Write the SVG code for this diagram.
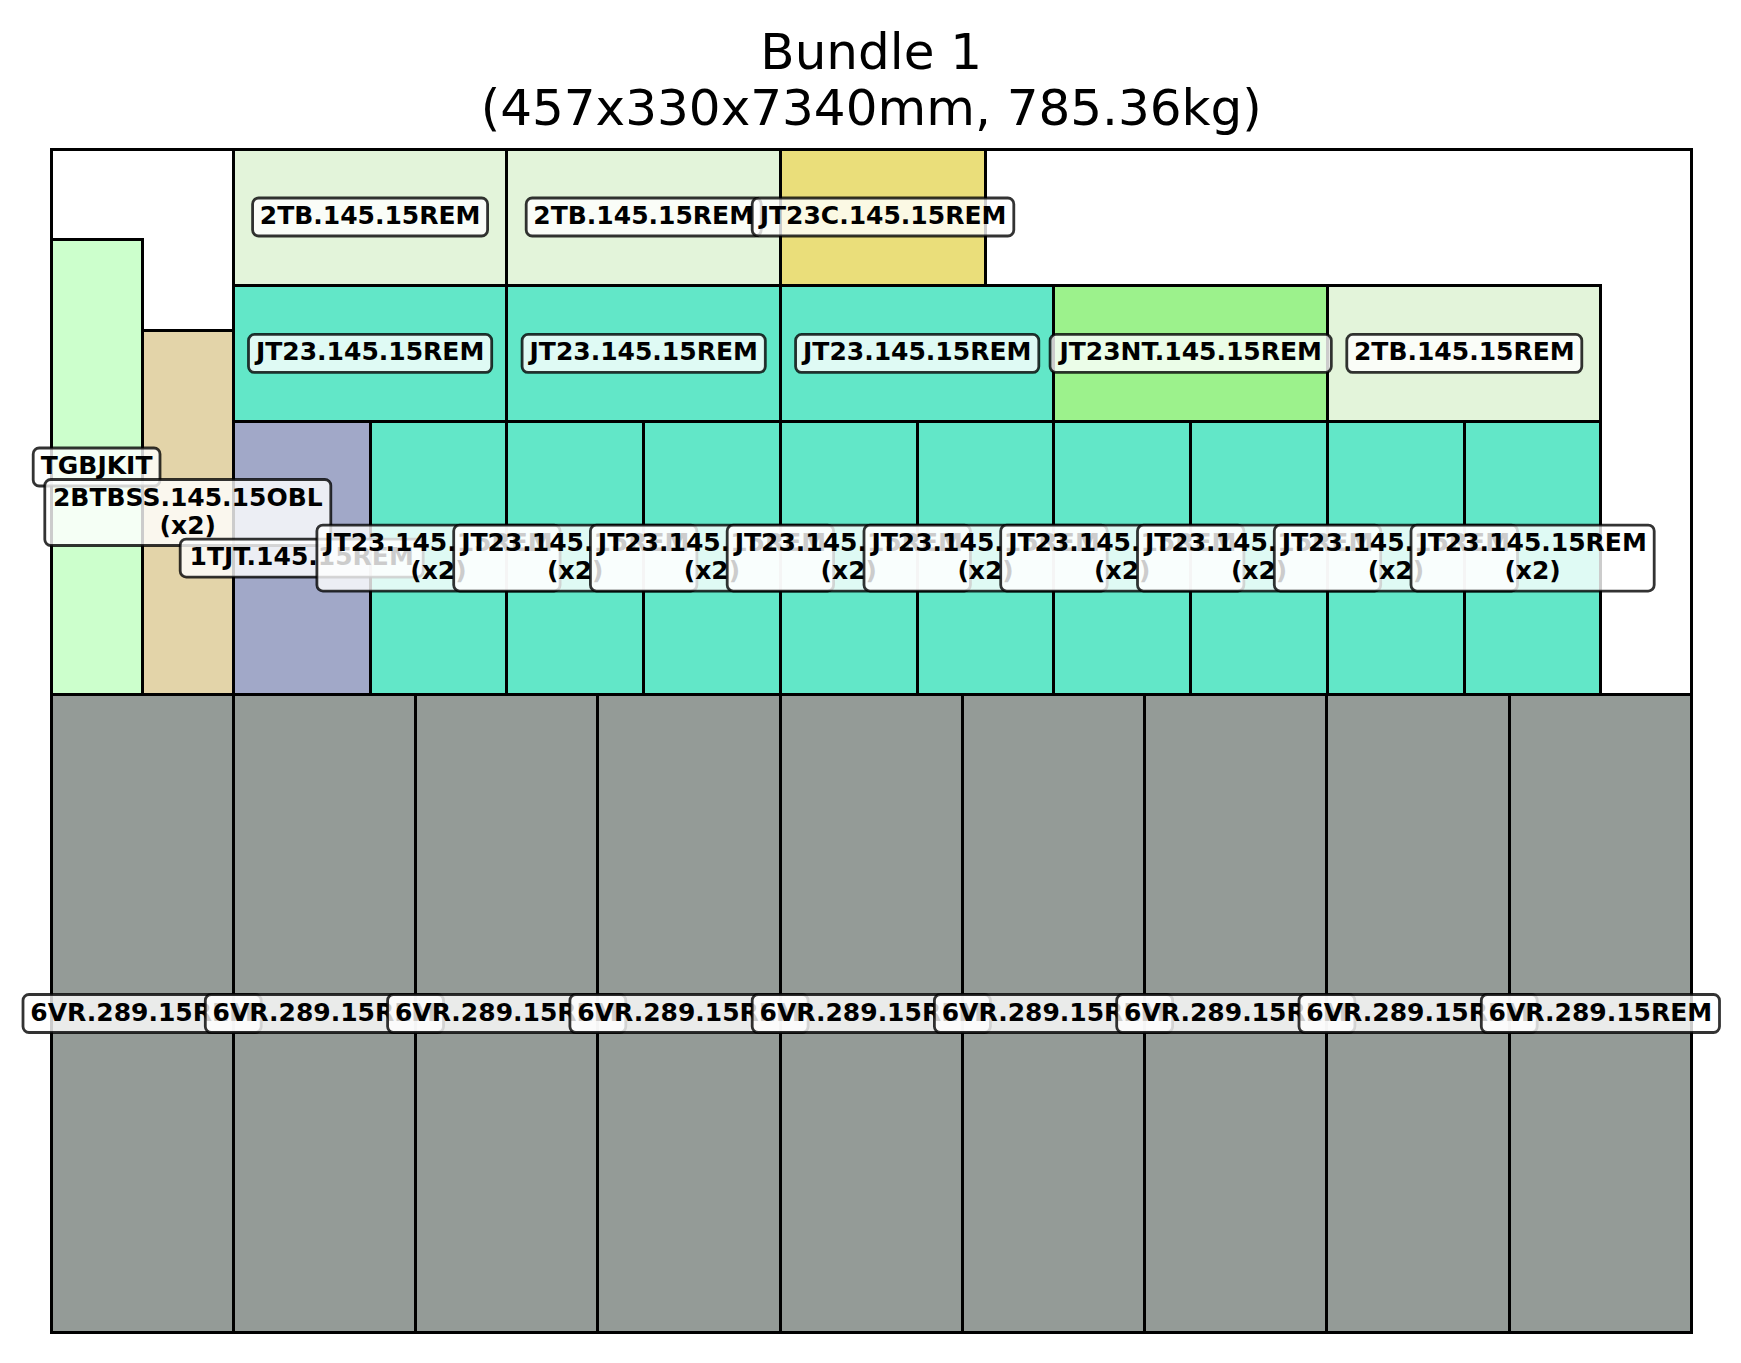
<svg xmlns="http://www.w3.org/2000/svg" width="1741" height="1363" viewBox="0 0 1741 1363">
  <style>
    .part { stroke: #000; stroke-width: 3; }
    .tb   { fill: #e3f4da; }
    .jt   { fill: #62e7c8; }
    .jtc  { fill: #eade7a; }
    .jtnt { fill: #9cf28c; }
    .kit  { fill: #ccffcc; }
    .bss  { fill: #e3d4a9; }
    .tjt  { fill: #a1a8c8; }
    .vr   { fill: #949b97; }
    .tag rect { fill: #fff; fill-opacity: 0.8; stroke: #000; stroke-opacity: 0.8; stroke-width: 2.8; }
    .tag text { font-family: "DejaVu Sans", sans-serif; font-weight: bold; font-size: 25px; text-anchor: middle; fill: #000; }
    .title { font-family: "DejaVu Sans", sans-serif; font-size: 50px; text-anchor: middle; fill: #000; }
  </style>

  <rect width="1741" height="1363" fill="#fff"/>

  <!-- heading -->
  <g id="title">
    <text class="title" x="871.25" y="69">Bundle 1</text>
    <text class="title" x="871.25" y="125">(457x330x7340mm, 785.36kg)</text>
  </g>

  <!-- bundle cross-section outline -->
  <rect id="bundle-outline" x="51.5" y="149.5" width="1640" height="1183" fill="#fff" stroke="#000" stroke-width="3"/>

  <!-- parts -->
  <g id="parts">
    <!-- bottom layer: 6VR.289.15REM -->
    <g id="vr-1"><rect class="part vr" x="51.5" y="694.5" width="182" height="638"/></g>
    <g id="vr-2"><rect class="part vr" x="233.5" y="694.5" width="182" height="638"/></g>
    <g id="vr-3"><rect class="part vr" x="415.5" y="694.5" width="182" height="638"/></g>
    <g id="vr-4"><rect class="part vr" x="597.5" y="694.5" width="183" height="638"/></g>
    <g id="vr-5"><rect class="part vr" x="780.5" y="694.5" width="182" height="638"/></g>
    <g id="vr-6"><rect class="part vr" x="962.5" y="694.5" width="182" height="638"/></g>
    <g id="vr-7"><rect class="part vr" x="1144.5" y="694.5" width="182" height="638"/></g>
    <g id="vr-8"><rect class="part vr" x="1326.5" y="694.5" width="183" height="638"/></g>
    <g id="vr-9"><rect class="part vr" x="1509.5" y="694.5" width="182" height="638"/></g>

    <!-- left uprights -->
    <g id="tgbjkit"><rect class="part kit" x="51.5" y="239.5" width="91" height="455"/></g>
    <g id="btbss"><rect class="part bss" x="142.5" y="330.5" width="91" height="364"/></g>
    <g id="tjt"><rect class="part tjt" x="233.5" y="421.5" width="137" height="273"/></g>

    <!-- small JT23 row (x2) -->
    <g id="jt-s1"><rect class="part jt" x="370.5" y="421.5" width="136" height="273"/></g>
    <g id="jt-s2"><rect class="part jt" x="506.5" y="421.5" width="137" height="273"/></g>
    <g id="jt-s3"><rect class="part jt" x="643.5" y="421.5" width="137" height="273"/></g>
    <g id="jt-s4"><rect class="part jt" x="780.5" y="421.5" width="137" height="273"/></g>
    <g id="jt-s5"><rect class="part jt" x="917.5" y="421.5" width="136" height="273"/></g>
    <g id="jt-s6"><rect class="part jt" x="1053.5" y="421.5" width="137" height="273"/></g>
    <g id="jt-s7"><rect class="part jt" x="1190.5" y="421.5" width="137" height="273"/></g>
    <g id="jt-s8"><rect class="part jt" x="1327.5" y="421.5" width="137" height="273"/></g>
    <g id="jt-s9"><rect class="part jt" x="1464.5" y="421.5" width="136" height="273"/></g>

    <!-- middle row -->
    <g id="jt-m1"><rect class="part jt" x="233.5" y="285.5" width="273" height="136"/></g>
    <g id="jt-m2"><rect class="part jt" x="506.5" y="285.5" width="274" height="136"/></g>
    <g id="jt-m3"><rect class="part jt" x="780.5" y="285.5" width="273" height="136"/></g>
    <g id="jtnt"><rect class="part jtnt" x="1053.5" y="285.5" width="274" height="136"/></g>
    <g id="tb-m5"><rect class="part tb" x="1327.5" y="285.5" width="273" height="136"/></g>

    <!-- top row -->
    <g id="tb-t1"><rect class="part tb" x="233.5" y="149.5" width="273" height="136"/></g>
    <g id="tb-t2"><rect class="part tb" x="506.5" y="149.5" width="274" height="136"/></g>
    <g id="jtc"><rect class="part jtc" x="780.5" y="149.5" width="205" height="136"/></g>
  </g>

  <!-- part labels, drawn above all parts -->
  <g id="labels">
    <g class="tag" id="label-tgbjkit" transform="translate(96.6 467)">
      <rect x="-63.4" y="-19" width="126.8" height="38" rx="6"/>
      <text y="7">TGBJKIT</text>
    </g>
    <g class="tag" id="label-btbss" transform="translate(187.8 512.5)">
      <rect x="-143" y="-33" width="286" height="66" rx="6"/>
      <text y="-7">2BTBSS.145.15OBL</text>
      <text y="21">(x2)</text>
    </g>
    <g class="tag" id="label-tjt" transform="translate(301.7 558.1)">
      <rect x="-121.5" y="-19" width="243" height="38" rx="6"/>
      <text y="7">1TJT.145.15REM</text>
    </g>

    <g class="tag" id="label-jt-s1" transform="translate(438.5 558.1)">
      <rect x="-121.6" y="-33" width="243.2" height="66" rx="6"/>
      <text y="-7">JT23.145.15REM</text><text y="21">(x2)</text>
    </g>
    <g class="tag" id="label-jt-s2" transform="translate(575.3 558.1)">
      <rect x="-121.6" y="-33" width="243.2" height="66" rx="6"/>
      <text y="-7">JT23.145.15REM</text><text y="21">(x2)</text>
    </g>
    <g class="tag" id="label-jt-s3" transform="translate(712 558.1)">
      <rect x="-121.6" y="-33" width="243.2" height="66" rx="6"/>
      <text y="-7">JT23.145.15REM</text><text y="21">(x2)</text>
    </g>
    <g class="tag" id="label-jt-s4" transform="translate(848.8 558.1)">
      <rect x="-121.6" y="-33" width="243.2" height="66" rx="6"/>
      <text y="-7">JT23.145.15REM</text><text y="21">(x2)</text>
    </g>
    <g class="tag" id="label-jt-s5" transform="translate(985.6 558.1)">
      <rect x="-121.6" y="-33" width="243.2" height="66" rx="6"/>
      <text y="-7">JT23.145.15REM</text><text y="21">(x2)</text>
    </g>
    <g class="tag" id="label-jt-s6" transform="translate(1122.3 558.1)">
      <rect x="-121.6" y="-33" width="243.2" height="66" rx="6"/>
      <text y="-7">JT23.145.15REM</text><text y="21">(x2)</text>
    </g>
    <g class="tag" id="label-jt-s7" transform="translate(1259.1 558.1)">
      <rect x="-121.6" y="-33" width="243.2" height="66" rx="6"/>
      <text y="-7">JT23.145.15REM</text><text y="21">(x2)</text>
    </g>
    <g class="tag" id="label-jt-s8" transform="translate(1395.9 558.1)">
      <rect x="-121.6" y="-33" width="243.2" height="66" rx="6"/>
      <text y="-7">JT23.145.15REM</text><text y="21">(x2)</text>
    </g>
    <g class="tag" id="label-jt-s9" transform="translate(1532.6 558.1)">
      <rect x="-121.6" y="-33" width="243.2" height="66" rx="6"/>
      <text y="-7">JT23.145.15REM</text><text y="21">(x2)</text>
    </g>

    <g class="tag" id="label-tb-t1" transform="translate(370.1 217)">
      <rect x="-117.5" y="-19" width="235" height="38" rx="6"/>
      <text y="7">2TB.145.15REM</text>
    </g>
    <g class="tag" id="label-tb-t2" transform="translate(643.7 217)">
      <rect x="-117.5" y="-19" width="235" height="38" rx="6"/>
      <text y="7">2TB.145.15REM</text>
    </g>
    <g class="tag" id="label-jtc" transform="translate(883 217)">
      <rect x="-130.8" y="-19" width="261.6" height="38" rx="6"/>
      <text y="7">JT23C.145.15REM</text>
    </g>

    <g class="tag" id="label-jt-m1" transform="translate(370.1 353.4)">
      <rect x="-121.6" y="-19" width="243.2" height="38" rx="6"/>
      <text y="7">JT23.145.15REM</text>
    </g>
    <g class="tag" id="label-jt-m2" transform="translate(643.7 353.4)">
      <rect x="-121.6" y="-19" width="243.2" height="38" rx="6"/>
      <text y="7">JT23.145.15REM</text>
    </g>
    <g class="tag" id="label-jt-m3" transform="translate(917.2 353.4)">
      <rect x="-121.6" y="-19" width="243.2" height="38" rx="6"/>
      <text y="7">JT23.145.15REM</text>
    </g>
    <g class="tag" id="label-jtnt" transform="translate(1190.7 353.4)">
      <rect x="-140.6" y="-19" width="281.2" height="38" rx="6"/>
      <text y="7">JT23NT.145.15REM</text>
    </g>
    <g class="tag" id="label-tb-m5" transform="translate(1464.3 353.4)">
      <rect x="-117.5" y="-19" width="235" height="38" rx="6"/>
      <text y="7">2TB.145.15REM</text>
    </g>

    <g class="tag" id="label-vr-1" transform="translate(142.1 1013.5)">
      <rect x="-119.1" y="-19" width="238.2" height="38" rx="6"/><text y="7">6VR.289.15REM</text>
    </g>
    <g class="tag" id="label-vr-2" transform="translate(324.4 1013.5)">
      <rect x="-119.1" y="-19" width="238.2" height="38" rx="6"/><text y="7">6VR.289.15REM</text>
    </g>
    <g class="tag" id="label-vr-3" transform="translate(506.7 1013.5)">
      <rect x="-119.1" y="-19" width="238.2" height="38" rx="6"/><text y="7">6VR.289.15REM</text>
    </g>
    <g class="tag" id="label-vr-4" transform="translate(689 1013.5)">
      <rect x="-119.1" y="-19" width="238.2" height="38" rx="6"/><text y="7">6VR.289.15REM</text>
    </g>
    <g class="tag" id="label-vr-5" transform="translate(871.3 1013.5)">
      <rect x="-119.1" y="-19" width="238.2" height="38" rx="6"/><text y="7">6VR.289.15REM</text>
    </g>
    <g class="tag" id="label-vr-6" transform="translate(1053.5 1013.5)">
      <rect x="-119.1" y="-19" width="238.2" height="38" rx="6"/><text y="7">6VR.289.15REM</text>
    </g>
    <g class="tag" id="label-vr-7" transform="translate(1235.8 1013.5)">
      <rect x="-119.1" y="-19" width="238.2" height="38" rx="6"/><text y="7">6VR.289.15REM</text>
    </g>
    <g class="tag" id="label-vr-8" transform="translate(1418.1 1013.5)">
      <rect x="-119.1" y="-19" width="238.2" height="38" rx="6"/><text y="7">6VR.289.15REM</text>
    </g>
    <g class="tag" id="label-vr-9" transform="translate(1600.4 1013.5)">
      <rect x="-119.1" y="-19" width="238.2" height="38" rx="6"/><text y="7">6VR.289.15REM</text>
    </g>
  </g>
</svg>
